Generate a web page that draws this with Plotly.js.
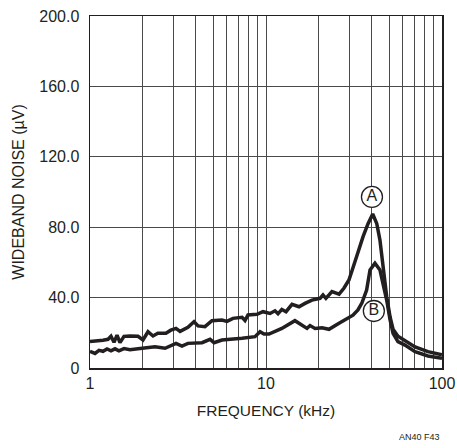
<!DOCTYPE html>
<html>
<head>
<meta charset="utf-8">
<script src="https://cdn.plot.ly/plotly-3.0.1.min.js"></script>
<style>
html,body{margin:0;padding:0;background:#fff;}
#chart{width:457px;height:448px;}
</style>
</head>
<body>
<div id="chart"></div>
<script>
// Curve A (upper)
const freqA = [1.0,1.068,1.185,1.266,1.316,1.369,1.424,1.48,1.56,1.687,1.874,2.0,2.136,2.28,2.43,2.70,2.88,3.08,3.25,3.60,3.90,4.11,4.50,4.93,5.62,6.0,6.49,7.31,7.6,7.9,8.89,9.61,10.54,11.25,11.7,12.3,13.0,14.05,15.4,16.66,18.24,20.27,21.08,21.9,23.7,26.0,27.7,29.6,30.8,32.7,35.6,38.0,40.4,42.6,44.4,46.2,48.5,50.7,52.7,56.2,61.6,70.3,83.2,100];
const noiseA = [15,15.2,15.8,16.3,18,14.6,18.7,14.4,18,18.2,18,15.9,20.6,18.2,19.7,19.8,21.5,22.5,20.8,23.1,26.3,23.9,23.5,26.9,27.3,26.5,28.2,28.8,27,30.1,30.5,32,31,32.5,30.8,33.3,32,36.2,34.8,36.7,38.6,39.6,41.5,39.6,43.4,42,45.3,50,55.7,63.2,74.6,82,87.5,82,72.7,57.5,40.5,29,22,18,15.5,12,9.3,7.5];
// Curve B (lower)
const freqB = [1.0,1.068,1.125,1.185,1.25,1.316,1.387,1.46,1.56,1.687,1.874,2.0,2.19,2.34,2.67,2.85,3.08,3.33,3.60,4.33,4.81,5.07,5.62,7.31,8.66,9.25,9.74,10.4,12.3,14.6,16.0,17.1,17.8,19.0,20.8,22.8,26.0,28.5,31.2,33.3,35.1,37.3,39.0,41.6,44.4,46.2,48.5,50.7,52.7,56.2,61.6,70.3,83.2,100];
const noiseB = [9.5,8.3,10,9.5,10.8,9.8,10.9,9.8,11,10.4,11,11.2,11.5,12.1,11.2,12.3,14,12.5,14,14.4,16.3,14.4,15.9,16.9,17.8,20.6,19.3,19.3,22.5,26.9,24.4,22.5,24.1,22.5,22.9,22,25.4,27.5,30,33,37,44.3,55.7,59.5,55.7,48,38.6,27.3,19.7,15,13,9.3,6.8,5.5];
const labelTexts = ['A','B'];
const labelFreq = [40.0,41.0];
const labelNoise = [97.2,32.4];
const xTickVals = [1,2,3,4,5,6,7,8,9,10,20,30,40,50,60,70,80,90,100];
const xTickText = ['1','','','','','','','','','10','','','','','','','','','100'];
const yTickVals = [0,40,80,120,160,200];
const yTickText = ['0','40.0','80.0','120.0','160.0','200.0'];

const INK = '#231f20';
const FONT = '"Liberation Sans", Arial, sans-serif';
const lineStyle = {color:INK, width:3.5, shape:'linear'};
const data = [
  {x:freqA, y:noiseA, mode:'lines', line:lineStyle, hoverinfo:'skip'},
  {x:freqB, y:noiseB, mode:'lines', line:lineStyle, hoverinfo:'skip'},
  {x:labelFreq, y:labelNoise, text:labelTexts, mode:'markers+text', textposition:'middle center',
   marker:{symbol:'circle', size:21, color:'#fff', line:{color:INK, width:1.3}},
   textfont:{family:FONT, size:16, color:INK}, hoverinfo:'skip', cliponaxis:false}
];
const annotations = [{
  xref:'paper', yref:'paper', x:1.0, y:-0.196, xanchor:'right', yanchor:'middle',
  text:'AN40 F43', showarrow:false, font:{family:FONT, size:9, color:INK}
}];
const layout = {
  width:457, height:448,
  margin:{l:90, r:15, t:16, b:80},
  paper_bgcolor:'#fff', plot_bgcolor:'#fff',
  showlegend:false,
  font:{family:FONT, size:16, color:INK},
  xaxis:{
    type:'log', range:[0,2], tickmode:'array', tickvals:xTickVals, ticktext:xTickText,
    showgrid:true, gridcolor:'#4a4a4a', gridwidth:1,
    showline:true, linecolor:INK, linewidth:1.5, mirror:true,
    ticks:'', zeroline:false,
    title:{text:'FREQUENCY (kHz)', font:{family:FONT, size:15.5, color:INK}, standoff:14},
    tickfont:{family:FONT, size:16, color:INK}
  },
  yaxis:{
    range:[0,200], tickmode:'array', tickvals:yTickVals, ticktext:yTickText,
    showgrid:true, gridcolor:'#4a4a4a', gridwidth:1,
    showline:true, linecolor:INK, linewidth:1.5, mirror:true,
    ticks:'', zeroline:false, ticklabelstandoff:6,
    title:{text:'WIDEBAND NOISE (µV)', font:{family:FONT, size:16, color:INK}, standoff:10},
    tickfont:{family:FONT, size:16, color:INK}
  },
  annotations:annotations
};
Plotly.newPlot('chart', data, layout, {staticPlot:true, displayModeBar:false});
</script>
</body>
</html>
